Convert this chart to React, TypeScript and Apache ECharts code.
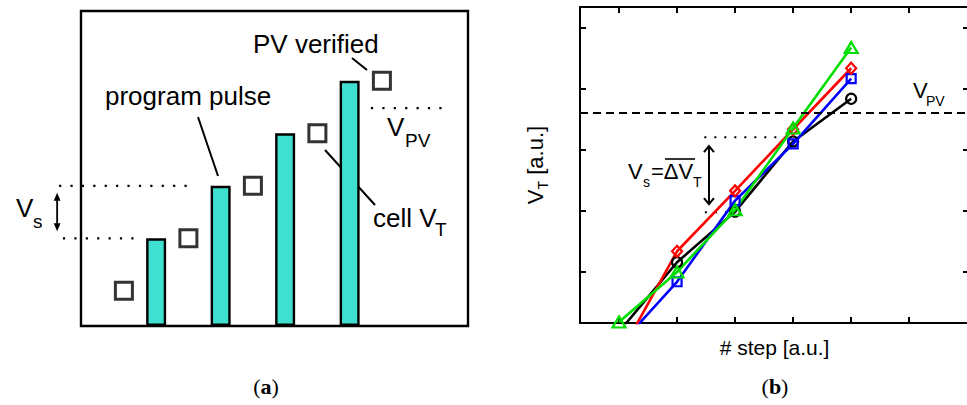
import React, { useEffect, useRef } from "react";
import * as echarts from "echarts";

// ---------- Panel (a): ISPP scheme ----------
const pulseX = [2.33, 4.33, 6.33, 8.33];
const pulseLevels = [1.67, 2.67, 3.67, 4.67];
const cellX = [1.33, 3.33, 5.33, 7.33, 9.33];
const cellVT = [0.67, 1.67, 2.67, 3.67, 4.67];
const pvLevelA = 4.15;

// ---------- Panel (b): VT vs step ----------
const steps = [1, 2, 3, 4, 5];
const vtBlack = [0.02, 1.16, 1.99, 3.14, 3.84];
const vtBlue = [-0.21, 0.84, 2.17, 3.1, 4.17];
const vtRed = [-0.38, 1.34, 2.33, 3.34, 4.34];
const vtGreen = [0.18, 1.0, 2.02, 3.36, 4.68];
const vPV = 3.61;
const vsUpper = 3.21;
const vsLower = 1.98;
const xTicksB = [1, 2, 3, 4, 5, 6, 7];
const yTicksB = [1, 2, 3, 4, 5];

const SANS = "'Liberation Sans', Arial, Helvetica, sans-serif";
const SERIF = "'Liberation Serif', 'DejaVu Serif', serif";

function txt(x: number, y: number, text: string, size: number, align = "left", extra: any = {}) {
  return {
    type: "text",
    x,
    y,
    silent: true,
    style: {
      text,
      fontSize: size,
      fontFamily: SANS,
      fill: "#000",
      align,
      verticalAlign: "middle",
      textAlign: align,
      textVerticalAlign: "middle",
      ...extra,
    },
  };
}

function seg(x1: number, y1: number, x2: number, y2: number, w = 2, dash?: number[]) {
  return {
    type: "line",
    silent: true,
    shape: { x1, y1, x2, y2 },
    style: { stroke: "#000", lineWidth: w, lineDash: dash || null, lineCap: "butt" },
  };
}

export default function App() {
  const ref = useRef<HTMLDivElement>(null);

  useEffect(() => {
    if (!ref.current) return;
    const chart = echarts.init(ref.current, null, { renderer: "svg" });

    const bAxisX = (position: string, named: boolean) => ({
      gridIndex: 1,
      type: "value",
      min: 0.328,
      max: 7.03,
      position,
      axisLine: { show: true, onZero: false, lineStyle: { color: "#000", width: 2 } },
      axisTick: { show: true, inside: true, length: 6, customValues: xTicksB, lineStyle: { color: "#000", width: 2 } },
      axisLabel: { show: false },
      splitLine: { show: false },
      ...(named
        ? {
            name: "# step [a.u.]",
            nameLocation: "middle",
            nameGap: 14,
            nameTextStyle: { fontSize: 21, fontFamily: SANS, color: "#000", verticalAlign: "top" },
          }
        : {}),
    });
    const bAxisY = (position: string, named: boolean) => ({
      gridIndex: 1,
      type: "value",
      min: 0.164,
      max: 5.344,
      position,
      axisLine: { show: true, onZero: false, lineStyle: { color: "#000", width: 2 } },
      axisTick: { show: true, inside: true, length: 6, customValues: yTicksB, lineStyle: { color: "#000", width: 2 } },
      axisLabel: { show: false },
      splitLine: { show: false },
      ...(named
        ? {
            name: "{v|V}{t|T}{n| [a.u.]}",
            nameLocation: "middle",
            nameRotate: 90,
            nameGap: 30,
            nameTextStyle: {
              fontFamily: SANS,
              color: "#000",
              rich: {
                v: { fontSize: 22, fontFamily: SANS, lineHeight: 30, verticalAlign: "middle" },
                t: { fontSize: 14, fontFamily: SANS, lineHeight: 14, verticalAlign: "bottom" },
                n: { fontSize: 22, fontFamily: SANS, lineHeight: 30, verticalAlign: "middle" },
              },
            },
          }
        : {}),
    });

    const lineSeries = (vals: number[], color: string, symbol: string, size: any, extra: any = {}) => ({
      type: "line",
      xAxisIndex: 1,
      yAxisIndex: 1,
      data: steps.map((s, i) => [s, vals[i]]),
      symbol,
      symbolSize: size,
      showAllSymbol: true,
      clip: true,
      lineStyle: { color, width: 2.6 },
      itemStyle: { color: "transparent", borderColor: color, borderWidth: 2.2 },
      emphasis: { disabled: true },
      ...extra,
    });

    chart.setOption({
      animation: false,
      backgroundColor: "#fff",
      grid: [
        {
          left: 81,
          top: 11,
          width: 387,
          height: 315,
          show: true,
          borderColor: "#000",
          borderWidth: 2.4,
          backgroundColor: "transparent",
          outerBoundsMode: "none",
        },
        { left: 580, top: 7, width: 389, height: 316, outerBoundsMode: "none" },
      ],
      xAxis: [
        { gridIndex: 0, type: "value", min: 0, max: 12, show: false },
        bAxisX("bottom", true),
        bAxisX("top", false),
      ],
      yAxis: [
        { gridIndex: 0, type: "value", min: 0, max: 6, show: false },
        bAxisY("left", true),
        bAxisY("right", false),
      ],
      series: [
        {
          type: "bar",
          xAxisIndex: 0,
          yAxisIndex: 0,
          data: pulseX.map((x, i) => [x, pulseLevels[i]]),
          barWidth: 20,
          itemStyle: { color: "#40E0D0", borderColor: "#000", borderWidth: 2.4 },
          emphasis: { disabled: true },
        },
        {
          type: "scatter",
          xAxisIndex: 0,
          yAxisIndex: 0,
          data: cellX.map((x, i) => [x, cellVT[i]]),
          symbol: "rect",
          symbolSize: 17,
          itemStyle: { color: "#fff", borderColor: "#000", borderWidth: 3 },
          emphasis: { disabled: true },
        },
        lineSeries(vtBlack, "#000", "circle", 10, {
          markLine: {
            silent: true,
            symbol: ["none", "none"],
            label: { show: false },
            lineStyle: { color: "#000", width: 2.2, type: [8, 5] },
            data: [{ yAxis: vPV }],
          },
        }),
        lineSeries(vtBlue, "#0000FF", "rect", 9),
        lineSeries(vtRed, "#FF0000", "diamond", [10, 11]),
        lineSeries(vtGreen, "#00DD00", "triangle", [13, 11]),
      ],
    });

    const pa = (x: number, y: number) => chart.convertToPixel({ xAxisIndex: 0, yAxisIndex: 0 }, [x, y]) as number[];
    const pb = (x: number, y: number) => chart.convertToPixel({ xAxisIndex: 1, yAxisIndex: 1 }, [x, y]) as number[];

    // panel (a) annotations
    const up = pa(-0.68, pulseLevels[1]);
    const upEnd = pa(3.47, pulseLevels[1]);
    const lo = pa(-0.56, pulseLevels[0]);
    const loEnd = pa(1.67, pulseLevels[0]);
    const pvA = pa(8.99, pvLevelA);
    const pvAEnd = pa(11.26, pvLevelA);
    const ax = pa(-0.74, 0)[0];
    const aTop = up[1] + 7;
    const aBot = lo[1] - 7;

    // panel (b) annotations
    const bu = pb(2.47, vsUpper);
    const buEnd = pb(3.83, vsUpper);
    const bl = pb(2.48, vsLower);
    const blEnd = pb(3.02, vsLower);
    const bx = pb(2.55, 0)[0];
    const bTop = bu[1] + 9;
    const bBot = bl[1] - 8;

    const graphic: any[] = [
      seg(up[0], up[1], upEnd[0], upEnd[1], 2.2, [2.2, 9.2]),
      seg(lo[0], lo[1], loEnd[0], loEnd[1], 2.2, [2.2, 9.2]),
      seg(pvA[0], pvA[1], pvAEnd[0], pvAEnd[1], 2.2, [2.2, 9.2]),
      seg(ax, aTop + 6, ax, aBot - 6, 1.8),
      {
        type: "polygon",
        silent: true,
        shape: { points: [[ax, aTop], [ax - 3.4, aTop + 8], [ax + 3.4, aTop + 8]] },
        style: { fill: "#000" },
      },
      {
        type: "polygon",
        silent: true,
        shape: { points: [[ax, aBot], [ax - 3.4, aBot - 8], [ax + 3.4, aBot - 8]] },
        style: { fill: "#000" },
      },
      seg(352, 58, 367, 70, 2),
      seg(198, 117, 218, 176, 2),
      seg(325, 150, 375, 205, 2),
      txt(253, 44, "PV verified", 26),
      txt(105, 96, "program pulse", 26),
      txt(16, 208, "V", 26),
      txt(33, 221, "s", 19),
      txt(387, 127, "V", 26),
      txt(405, 140, "PV", 19),
      txt(373, 218, "cell V", 26),
      txt(435, 229, "T", 19),

      seg(bu[0], bu[1], buEnd[0], buEnd[1], 2, [2, 8]),
      seg(bl[0], bl[1], blEnd[0], blEnd[1], 2, [2, 8]),
      seg(bx, bTop + 1, bx, bBot - 1, 2),
      {
        type: "polyline",
        silent: true,
        shape: { points: [[bx - 5, bTop + 6], [bx, bTop], [bx + 5, bTop + 6]] },
        style: { stroke: "#000", lineWidth: 2, fill: null },
      },
      {
        type: "polyline",
        silent: true,
        shape: { points: [[bx - 5, bBot - 6], [bx, bBot], [bx + 5, bBot - 6]] },
        style: { stroke: "#000", lineWidth: 2, fill: null },
      },
      txt(628, 171, "V", 22),
      txt(643, 182, "s", 14),
      txt(651, 171, "=ΔV", 22),
      txt(693, 182, "T", 14),
      seg(665, 159, 695, 159, 1.6),
      txt(913, 90, "V", 22),
      txt(926, 101, "PV", 14),

      {
        type: "text",
        x: 266,
        y: 386,
        silent: true,
        style: {
          text: "{p|(}{b|a}{p|)}",
          align: "center",
          verticalAlign: "middle",
          textAlign: "center",
          textVerticalAlign: "middle",
          rich: {
            p: { fontSize: 22, fontFamily: SERIF, fill: "#000", color: "#000" },
            b: { fontSize: 22, fontFamily: SERIF, fontWeight: "bold", fill: "#000", color: "#000" },
          },
        },
      },
      {
        type: "text",
        x: 775,
        y: 386,
        silent: true,
        style: {
          text: "{p|(}{b|b}{p|)}",
          align: "center",
          verticalAlign: "middle",
          textAlign: "center",
          textVerticalAlign: "middle",
          rich: {
            p: { fontSize: 22, fontFamily: SERIF, fill: "#000", color: "#000" },
            b: { fontSize: 22, fontFamily: SERIF, fontWeight: "bold", fill: "#000", color: "#000" },
          },
        },
      },
    ];

    chart.setOption({ graphic });

    return () => chart.dispose();
  }, []);

  return <div ref={ref} style={{ width: 967, height: 405, position: "absolute", left: 0, top: 0 }} />;
}
